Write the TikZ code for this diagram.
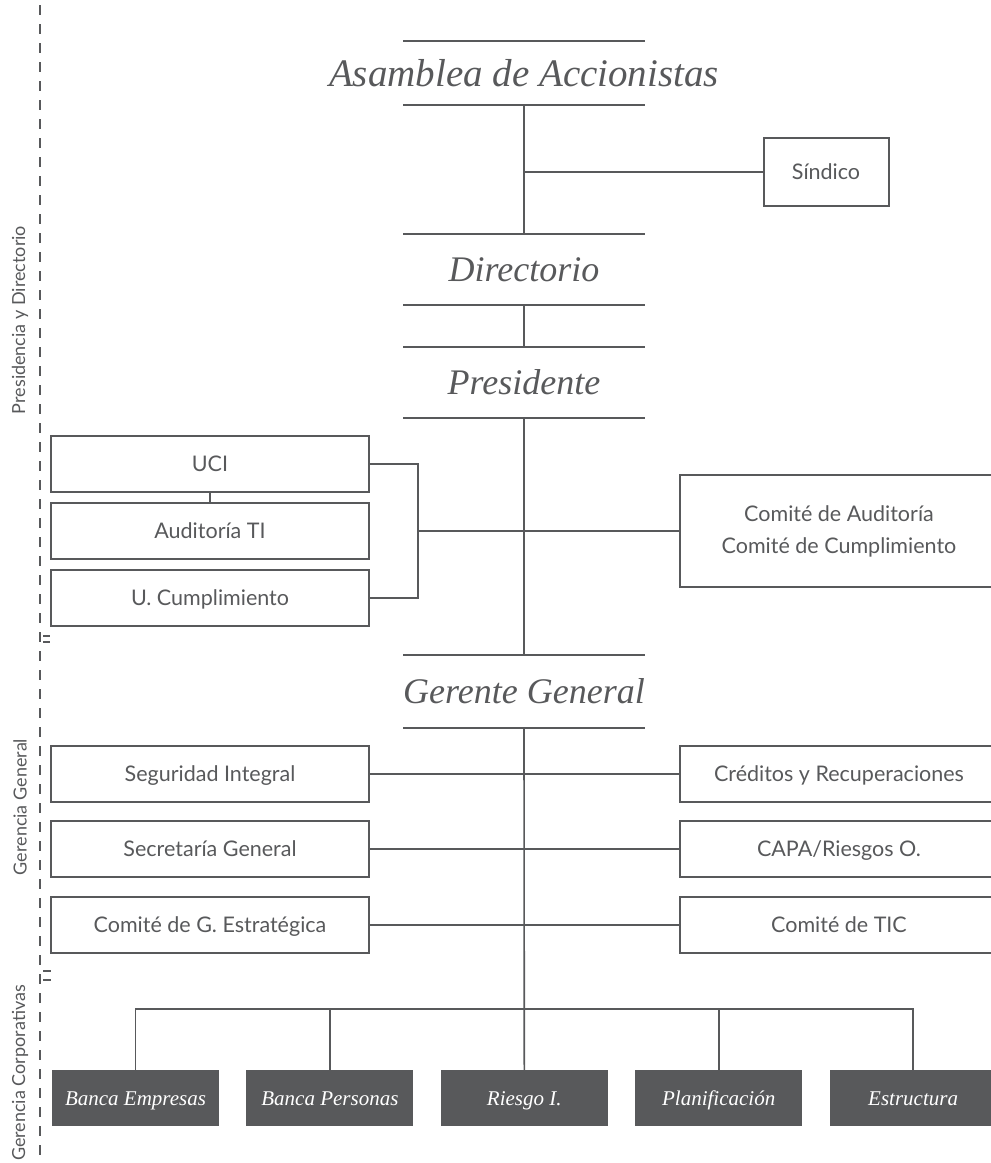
\documentclass[tikz,border=0pt]{standalone}
\usepackage{fontspec}
\setsansfont{Lato}
\newfontfamily\titlefont{Liberation Serif}
\usetikzlibrary{positioning}
\definecolor{ink}{HTML}{58595B}

\begin{document}
\begin{tikzpicture}[
        x=1pt, y=-1pt,
        every node/.style={text=ink, font=\sffamily\fontsize{21.5}{26}\selectfont},
        unitbox/.style={draw=ink, line width=2pt, minimum width=318pt, minimum height=56pt, inner sep=0pt, text height=15.5pt, text depth=0pt},
        headline/.style={minimum height=71pt, inner sep=0pt, font=\titlefont\itshape\fontsize{36}{40}\selectfont},
        gerencia/.style={fill=ink, text=white, minimum width=167pt, minimum height=56pt, inner sep=0pt, text height=14pt, text depth=0pt, font=\titlefont\itshape\fontsize{21}{24}\selectfont},
        titlerule/.style={draw=ink, line width=2pt},
        link/.style={draw=ink, line width=1.6pt},
        divider/.style={draw=ink, line width=1.3pt, dash pattern=on 10pt off 9pt},
        sidelabel/.style={rotate=90, font=\sffamily\fontsize{18}{22}\selectfont}
    ]

    \path[use as bounding box, clip] (0,0) rectangle (991,1163);

    % Asamblea
    \node[headline, minimum height=64pt, font=\titlefont\itshape\fontsize{39}{42}\selectfont] (asamblea) at (524,73) {Asamblea de Accionistas};
    \draw[titlerule] ([xshift=-121pt]asamblea.north) -- ([xshift=121pt]asamblea.north);
    \draw[titlerule] ([xshift=-121pt]asamblea.south) -- ([xshift=121pt]asamblea.south);

    % Sindico
    \node[unitbox, minimum width=125pt, minimum height=68pt] (sindico) at (826,172) {Síndico};

    % Directorio
    \node[headline] (directorio) at (524,269.5) {Directorio};
    \draw[titlerule] ([xshift=-121pt]directorio.north) -- ([xshift=121pt]directorio.north);
    \draw[titlerule] ([xshift=-121pt]directorio.south) -- ([xshift=121pt]directorio.south);

    % Presidente
    \node[headline] (presidente) at (524,382.5) {Presidente};
    \draw[titlerule] ([xshift=-121pt]presidente.north) -- ([xshift=121pt]presidente.north);
    \draw[titlerule] ([xshift=-121pt]presidente.south) -- ([xshift=121pt]presidente.south);

    % Control units
    \node[unitbox] (uci) at (210,464) {UCI};
    \node[unitbox, below=9pt of uci] (auditoria) {Auditoría TI};
    \node[unitbox, below=9pt of auditoria] (cumplimiento) {U. Cumplimiento};
    \node[unitbox, minimum height=112pt, align=center, text height=, text depth=, font=\sffamily\fontsize{21.5}{32}\selectfont, right=309pt of auditoria] (comites)
    {Comité de Auditoría\\Comité de Cumplimiento};

    % Gerente General
    \node[headline, minimum height=73pt] (gerente) at (524,691.5) {Gerente General};
    \draw[titlerule] ([xshift=-121pt]gerente.north) -- ([xshift=121pt]gerente.north);
    \draw[titlerule] ([xshift=-121pt]gerente.south) -- ([xshift=121pt]gerente.south);

    % Staff units
    \node[unitbox] (seguridad) at (210,774) {Seguridad Integral};
    \node[unitbox, below=17pt of seguridad] (secretaria) {Secretaría General};
    \node[unitbox, below=18pt of secretaria] (estrategica) {Comité de G. Estratégica};
    \node[unitbox, right=309pt of seguridad] (creditos) {Créditos y Recuperaciones};
    \node[unitbox, right=309pt of secretaria] (capa) {CAPA/Riesgos O.};
    \node[unitbox, right=309pt of estrategica] (tic) {Comité de TIC};

    % Corporate managements
    \node[gerencia] (empresas) at (135.5,1098) {Banca Empresas};
    \node[gerencia, right=27pt of empresas] (personas) {Banca Personas};
    \node[gerencia, right=27pt of personas] (riesgo) {Riesgo I.};
    \node[gerencia, right=27pt of riesgo] (planificacion) {Planificación};
    \node[gerencia, right=27pt of planificacion] (estructura) {Estructura};

    % Main line
    \draw[link] (asamblea.south) -- (directorio.north);
    \draw[link] (asamblea.south |- sindico.west) -- (sindico.west);
    \draw[link] (directorio.south) -- (presidente.north);
    \draw[link] (presidente.south) -- (gerente.north);

    % Control bracket
    \coordinate (bracket) at ([xshift=48pt]auditoria.east);
    \draw[link] (uci.south) -- (auditoria.north);
    \draw[link] (uci.east) -| (bracket) |- (cumplimiento.east);
    \draw[link] (bracket) -- (comites.west);

    % Staff rows
    \draw[link] (seguridad) -- (creditos);
    \draw[link] (secretaria) -- (capa);
    \draw[link] (estrategica) -- (tic);

    % Bus to corporate managements
    \coordinate (bus) at (0,1009);
    \draw[link] (gerente.south) -- (riesgo.north);
    \draw[link] (empresas.north) |- (bus -| estructura.north) -- (estructura.north);
    \draw[link] (personas.north) -- (personas.north |- bus);
    \draw[link] (planificacion.north) -- (planificacion.north |- bus);

    % Levels
    \draw[divider] (40,5) -- (40,1163);
    \draw[ink, line width=1.3pt] (43,636) -- (50,636) (43,642) -- (50,642);
    \draw[ink, line width=1.3pt] (43,971) -- (51,971) (43,980) -- (51,980);
    \node[sidelabel] (presidencia) at (20,320) {Presidencia y Directorio};
    \node[sidelabel] (gergeneral) at (20,807) {Gerencia General};
    \node[sidelabel] (corporativas) at (20,1073) {Gerencia Corporativas};

\end{tikzpicture}
\end{document}
